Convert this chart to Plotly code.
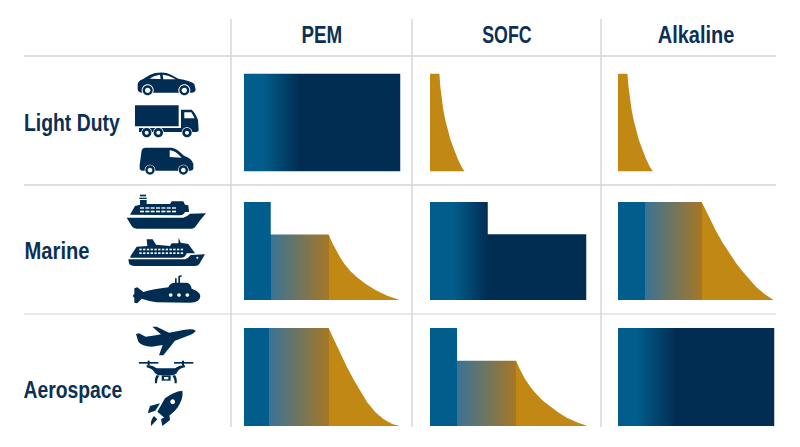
import re, json
import plotly.graph_objects as go

# ---------- data ----------
technologies = ["PEM", "SOFC", "Alkaline"]
applications = ["Light Duty", "Marine", "Aerospace"]

# each profile: share of range (x) against relative capability (y)
light_pem_x = [0, 100]
light_pem_y = [100, 100]
light_sofc_x = [0, 6.0, 6.6, 7.5, 8.5, 9.8, 11.3, 13.2, 15.4, 17.7, 20.3, 22.2]
light_sofc_y = [100, 100, 86.8, 74.9, 63.1, 52.2, 42.0, 31.9, 22.4, 12.9, 4.4, 0]
light_alk_x = [0, 6.0, 6.7, 7.6, 8.7, 10.0, 11.5, 13.4, 15.6, 17.9, 20.5, 22.4]
light_alk_y = [100, 100, 86.8, 74.9, 63.1, 52.2, 42.0, 31.9, 22.4, 12.9, 4.4, 0]

marine_pem_x = [0, 17.1, 17.1, 54.1, 56.2, 58.3, 61.1, 64.1, 67.9, 72.2, 77.6, 84.0, 91.5, 99.6]
marine_pem_y = [100, 100, 66.9, 66.9, 59.0, 52.2, 44.4, 36.9, 29.7, 23.2, 16.7, 10.2, 4.4, 0]
marine_sofc_x = [0, 36.9, 36.9, 100]
marine_sofc_y = [100, 100, 67.2, 67.2]
marine_alk_x = [0, 53.5, 56.5, 59.7, 62.8, 67.1, 71.3, 75.5, 79.8, 84.0, 88.3, 93.6, 99.4]
marine_alk_y = [100, 100, 90.4, 80.2, 69.9, 58.0, 47.1, 37.5, 28.7, 20.5, 13.3, 6.1, 0]

aero_pem_x = [0, 54.1, 57.3, 61.5, 65.8, 70.1, 74.4, 78.6, 84.0, 89.3, 94.7, 99.6]
aero_pem_y = [100, 100, 88.7, 74.4, 60.1, 47.1, 35.2, 24.6, 14.0, 6.8, 2.0, 0]
aero_sofc_x = [0, 17.3, 17.3, 55.0, 57.6, 60.8, 64.4, 68.2, 72.5, 76.8, 82.1, 87.4, 93.8, 100.9]
aero_sofc_y = [100, 100, 66.6, 66.6, 57.3, 47.8, 39.3, 32.1, 25.3, 19.8, 13.7, 8.5, 3.8, 0]
aero_alk_x = [0, 100]
aero_alk_y = [100, 100]

# ---------- style / layout ----------
W, H = 800, 447
BLUE, NAVY, GOLD = "#015d8b", "#022d53", "#c18814"
MIX0, MIX1 = "#3a7396", "#a67726"
TEXT = "#0c3055"
GRID = "#d4d4d4"
FONT = "Liberation Sans"

col_left = [244, 430, 618]
row_top = [73.5, 202, 328]
cell_w, cell_h = 156.5, 98


def solid():
    return [[0, GOLD], [1, GOLD]]


def to_navy(a, b):
    return [[0, BLUE], [a, BLUE], [b, NAVY], [1, NAVY]]


def to_gold(a, b):
    e = 0.0005
    return [[0, BLUE], [a, BLUE], [a + e, MIX0], [b, MIX1], [b + e, GOLD], [1, GOLD]]


cells = [
    [(light_pem_x, light_pem_y, to_navy(.12, .36)),
     (light_sofc_x, light_sofc_y, solid()),
     (light_alk_x, light_alk_y, solid())],
    [(marine_pem_x, marine_pem_y, to_gold(.171, .541)),
     (marine_sofc_x, marine_sofc_y, to_navy(.15, .37)),
     (marine_alk_x, marine_alk_y, to_gold(.17, .535))],
    [(aero_pem_x, aero_pem_y, to_gold(.16, .541)),
     (aero_sofc_x, aero_sofc_y, to_gold(.173, .55)),
     (aero_alk_x, aero_alk_y, to_navy(.12, .37))],
]

fig = go.Figure()
layout = {}
n = 0
for r, row in enumerate(cells):
    for c, (xs, ys, scale) in enumerate(row):
        n += 1
        sfx = "" if n == 1 else str(n)
        layout["xaxis" + sfx] = dict(domain=[col_left[c] / W, (col_left[c] + cell_w) / W],
                                     range=[0, 100], visible=False, fixedrange=True,
                                     anchor="y" + sfx)
        layout["yaxis" + sfx] = dict(domain=[1 - (row_top[r] + cell_h) / H, 1 - row_top[r] / H],
                                     range=[0, 100], visible=False, fixedrange=True,
                                     anchor="x" + sfx)
        fig.add_trace(go.Scatter(
            x=xs, y=ys, mode="lines", line=dict(width=0), fill="tozeroy",
            fillgradient=dict(type="horizontal", colorscale=scale, start=0, stop=100),
            hoverinfo="skip", showlegend=False, cliponaxis=False,
            xaxis="x" + sfx, yaxis="y" + sfx))

# overlay axes in page pixels, for rules and pictograms
layout["xaxis10"] = dict(domain=[0, 1], range=[0, W], visible=False, fixedrange=True, anchor="y10")
layout["yaxis10"] = dict(domain=[0, 1], range=[H, 0], visible=False, fixedrange=True, anchor="x10")
fig.add_trace(go.Scatter(x=[0], y=[0], mode="markers", marker=dict(opacity=0, size=1),
                         hoverinfo="skip", showlegend=False, xaxis="x10", yaxis="y10"))

shapes = []


def rule(x0, y0, x1, y1, w=1.3):
    shapes.append(dict(type="line", x0=x0, y0=y0, x1=x1, y1=y1, xref="x10", yref="y10",
                       line=dict(color=GRID, width=w), layer="below"))


for y, w in ((56, 1.6), (185, 1.4), (314, 1.2)):
    rule(24, y, 776, y, w)
for x in (231, 412, 601):
    rule(x, 19, x, 427, 1.4)


def circle(cx, cy, r):
    k = 0.5523 * r
    return (f"M{cx-r},{cy} C{cx-r},{cy-k} {cx-k},{cy-r} {cx},{cy-r} "
            f"C{cx+k},{cy-r} {cx+r},{cy-k} {cx+r},{cy} "
            f"C{cx+r},{cy+k} {cx+k},{cy+r} {cx},{cy+r} "
            f"C{cx-k},{cy+r} {cx-r},{cy+k} {cx-r},{cy} Z")


def icon(path, ox, oy, color=NAVY):
    """Path drawn in 3x crop coordinates with origin (ox, oy)."""
    idx = [0]

    def rep(m):
        v = float(m.group(0)) / 3
        v += ox if idx[0] % 2 == 0 else oy
        idx[0] += 1
        return f"{v:.2f}"

    p = re.sub(r"-?\d+\.?\d*", rep, path)
    shapes.append(dict(type="path", path=p, xref="x10", yref="y10",
                       fillcolor=color, line=dict(width=0), layer="above"))


def wheel(cx, cy, rw, ro, ri, ox, oy):
    icon(circle(cx, cy, rw), ox, oy, "#ffffff")
    icon(circle(cx, cy, ro), ox, oy)
    icon(circle(cx, cy, ri), ox, oy, "#ffffff")


# crop 1: road vehicles
o = (125, 65)
icon("M38,73 L38,58 Q40,47 53,43 Q70,29 90,24 Q120,19 138,29 L160,41 Q195,46 208,57 L212,74 Q210,83 200,83 L50,83 Q38,82 38,73 Z", *o)
icon("M74,41 Q85,32 105,29 L107,42 Z", *o, "#ffffff")
icon("M113,29 Q130,30 152,43 L115,43 Z", *o, "#ffffff")
wheel(68, 76, 18, 15, 8, *o)
wheel(178, 76, 18, 15, 8, *o)
icon("M30,121 L161,121 L161,184 L30,184 Z", *o)
icon("M168,134 L200,134 Q212,145 219,165 L221,196 Q220,201 214,201 L42,201 L42,189 L168,189 Z", *o)
icon("M178,142 L199,142 L209,160 L178,160 Z", *o, "#ffffff")
wheel(65, 203, 16, 14, 6, *o)
wheel(100, 203, 16, 14, 6, *o)
wheel(186, 203, 16, 14, 6, *o)
icon("M50,256 Q52,248 60,248 L140,248 Q155,250 177,272 Q200,280 205,296 L205,312 Q204,317 195,317 L50,317 L44,312 L44,300 Z", *o)
icon("M134,256 Q150,256 170,278 L134,276 Z", *o, "#ffffff")
wheel(75, 315, 16, 14, 7, *o)
wheel(175, 315, 16, 14, 7, *o)

# crop 2: marine
o = (120, 190)
icon("M20,83 L190,83 Q200,81 210,71 L258,70 Q240,90 225,112 Q222,116 215,116 L50,116 Q40,116 35,108 Z", *o)
icon("M30,74 L45,48 L60,44 L60,30 L80,30 L80,42 L150,42 L155,34 L190,34 L195,44 L205,46 L207,66 L195,66 Q190,76 180,76 Z", *o)
icon("M60,14 L78,14 L78,19 L60,19 Z", *o)
icon("M58,23 L80,23 L80,27 L58,27 Z", *o)
for j in range(7):
    x0 = 60 + j * 16
    icon(f"M{x0},52 L{x0+12},52 L{x0+12},56 L{x0},56 Z", *o, "#ffffff")
    icon(f"M{x0},62 L{x0+12},62 L{x0+12},67 L{x0},67 Z", *o, "#ffffff")
icon("M25,208 L195,208 Q205,205 212,195 L255,193 Q245,210 238,222 Q234,228 225,228 L45,228 Q30,228 27,220 Z", *o)
icon("M33,196 L50,170 L82,168 L80,148 L98,148 L108,164 L150,168 L155,160 L175,160 L176,143 L182,158 L205,162 L225,190 L200,190 Q195,203 185,203 L30,203 Z", *o)
for j in range(12):
    x0 = 58 + j * 11.3
    icon(f"M{x0},176 L{x0+7},176 L{x0+7},181 L{x0},181 Z", *o, "#ffffff")
    icon(f"M{x0},187 L{x0+7},187 L{x0+7},192 L{x0},192 Z", *o, "#ffffff")
icon(circle(232, 203, 3), *o, "#ffffff")
icon("M70,306 Q100,297 145,292 Q150,278 165,278 L200,278 Q212,280 215,296 Q240,305 241,318 Q240,338 210,338 L110,337 Q85,333 65,326 L52,340 L43,338 L43,323 L38,318 L43,311 L43,295 L52,292 Z", *o)
icon("M165,281 L165,265 L170,265 L170,281 Z", *o)
icon("M175,281 L175,258 L185,255 L185,260 L180,261 L180,281 Z", *o)
for x0 in (152, 177, 202):
    icon(circle(x0, 315, 5.5), *o, "#ffffff")

# crop 3: aerospace
o = (125, 320)
icon("M33,42 L42,40 L62,50 Q100,45 175,30 Q205,25 212,32 Q210,38 195,45 L150,62 L115,106 L102,106 L113,75 L80,80 Q50,78 40,65 Z", *o)
icon("M82,20 L95,20 L135,40 L110,45 Z", *o)
icon("M42,126 L100,126 L100,131 L42,131 Z", *o)
icon("M147,126 L205,126 L205,131 L147,131 Z", *o)
icon("M68,122 L74,122 L74,137 L68,137 Z", *o)
icon("M171,122 L177,122 L177,137 L171,137 Z", *o)
icon("M65,136 Q80,133 95,145 L150,145 Q165,133 180,136 L180,142 Q160,145 155,160 L145,166 L100,166 L90,160 Q85,147 65,142 Z", *o)
icon("M95,165 Q88,175 90,190 L96,190 Q96,175 103,168 Z", *o)
icon("M150,165 Q157,175 155,190 L149,190 Q149,175 142,168 Z", *o)
icon("M110,166 L137,166 L137,182 L110,182 Z", *o)
icon("M117,171 L130,171 L130,178 L117,178 Z", *o, "#ffffff")
icon("M172,212 Q145,215 120,235 L97,275 L120,295 Q155,275 165,250 Q175,230 172,212 Z", *o)
icon(circle(143, 245, 7), *o, "#ffffff")
icon("M105,250 L75,258 L68,280 L91,272 Z", *o)
icon("M133,285 L135,300 L112,318 L108,297 Z", *o)
icon("M87,288 L97,298 L78,318 Q76,300 87,288 Z", *o)

annotations = []
label_widths = []
for name, cx, wd in zip(technologies, (322.3, 507, 695.7), (40.7, 49.3, 76.7)):
    annotations.append(dict(text=name, x=cx, y=35, xref="x10", yref="y10",
                            showarrow=False, xanchor="center", yanchor="middle",
                            font=dict(family=FONT, size=23, weight=700, color=TEXT)))
    label_widths.append(wd)
for name, cx, cy, wd in zip(applications, (72.2, 56.8, 72.7), (123, 251, 390), (95.7, 65, 98.7)):
    annotations.append(dict(text=name, x=cx, y=cy, xref="x10", yref="y10",
                            showarrow=False, xanchor="center", yanchor="middle",
                            font=dict(family=FONT, size=23, weight=700, color=TEXT)))
    label_widths.append(wd)

fig.update_layout(width=W, height=H, margin=dict(l=0, r=0, t=0, b=0),
                  paper_bgcolor="#ffffff", plot_bgcolor="rgba(0,0,0,0)",
                  showlegend=False, shapes=shapes, annotations=annotations, **layout)

# The reference uses a condensed face: fit each label to its measured width.
post = (
    "document.documentElement.style.margin='0';document.body.style.margin='0';"
    f"var ws={json.dumps(label_widths)};"
    "document.querySelectorAll('text.annotation-text').forEach(function(t,i){"
    "t.setAttribute('textLength',ws[i]);t.setAttribute('lengthAdjust','spacingAndGlyphs');});"
)
fig.write_html("out.html", config=dict(displayModeBar=False, responsive=False), post_script=post)
